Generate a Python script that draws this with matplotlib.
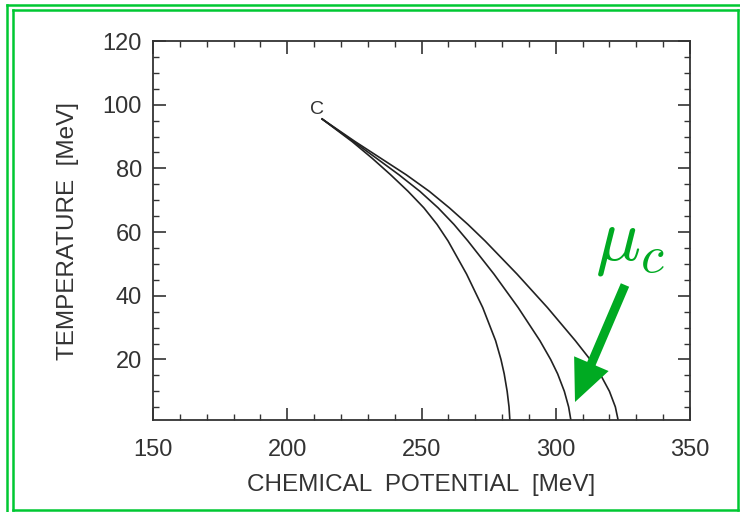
import matplotlib
matplotlib.use("Agg")
from matplotlib import pyplot as plt
from matplotlib.ticker import MultipleLocator

plt.rcParams['font.family'] = ['Liberation Sans', 'DejaVu Sans']
plt.rcParams['mathtext.fontset'] = 'cm'

# phase boundary lines, T [MeV] vs mu [MeV], all starting at the critical point C
temp = [95.5, 88.4, 83.2, 78.0, 72.8, 67.6, 62.4, 57.2, 46.8, 36.3, 25.9, 20.0, 15.5, 10.0, 5.1, 1.1]
mu_inner = [213.0, 224.2, 231.6, 238.5, 245.0, 250.9, 255.8, 259.9, 266.8, 272.8, 277.6, 279.6,
            280.8, 281.9, 282.6, 282.9]
mu_middle = [213.0, 224.7, 233.2, 241.6, 249.4, 256.2, 262.1, 267.3, 277.0, 286.0, 294.1, 298.1,
             300.7, 303.2, 304.8, 305.6]
mu_outer = [213.0, 225.3, 234.8, 244.3, 252.9, 260.4, 267.3, 273.7, 285.6, 296.9, 307.3, 312.8,
            316.5, 320.0, 322.2, 323.2]

crit_mu, crit_t = 211, 98.5

GREEN_FRAME = '#00c832'
GREEN_ARROW = '#00aa22'

fig = plt.figure(figsize=(7.4, 5.12), dpi=100)
W, H = 740, 512

# double green frame
def frame_line(x0, y0, x1, y1):
    fig.add_artist(plt.Line2D([x0 / W, x1 / W], [1 - y0 / H, 1 - y1 / H],
                              color=GREEN_FRAME, lw=1.8, transform=fig.transFigure))

frame_line(7, 5, 745, 5)
frame_line(7, 5, 7, 520)
frame_line(13, 10, 738, 10)
frame_line(13, 10, 13, 510)
frame_line(13, 510, 738, 510)
frame_line(738, 10, 738, 510)

ax = fig.add_axes([153 / W, 1 - 420 / H, (690 - 153) / W, (420 - 41) / H])

for mu in (mu_inner, mu_middle, mu_outer):
    ax.plot(mu, temp, color='#222222', lw=1.2, solid_joinstyle='round')

ax.text(crit_mu, crit_t, 'C', fontsize=14, ha='center', va='center', color='#333333')

ax.set_xlim(150, 350)
ax.set_ylim(1, 120)
ax.xaxis.set_major_locator(MultipleLocator(50))
ax.xaxis.set_minor_locator(MultipleLocator(10))
ax.yaxis.set_major_locator(MultipleLocator(20))
ax.yaxis.set_minor_locator(MultipleLocator(5))
ax.set_yticks([20, 40, 60, 80, 100, 120])

ax.tick_params(which='both', direction='in', top=True, right=True, colors='#333333',
               labelcolor='#333333', labelsize=17)
ax.tick_params(which='major', length=9, width=1.2)
ax.tick_params(which='minor', length=4.5, width=1.0)
ax.tick_params(axis='x', pad=14)
ax.tick_params(axis='y', pad=8)
for s in ax.spines.values():
    s.set_linewidth(1.3)
    s.set_color('#333333')

ax.set_xlabel('CHEMICAL  POTENTIAL  [MeV]', fontsize=17.5, color='#333333', labelpad=9)
ax.set_ylabel('TEMPERATURE  [MeV]', fontsize=17.5, color='#333333', labelpad=17)

# mu_c annotation
fig.text(630 / W, 1 - 243 / H, r'$\mu_c$', fontsize=54, color=GREEN_ARROW,
         ha='center', va='center')
ax.annotate('', xy=(575, H - 402), xytext=(625, H - 285),
            xycoords='figure pixels', textcoords='figure pixels',
            arrowprops=dict(width=6.5, headwidth=27, headlength=30, shrink=0,
                            color=GREEN_ARROW, lw=0))

fig.savefig('out.png', dpi=100)
